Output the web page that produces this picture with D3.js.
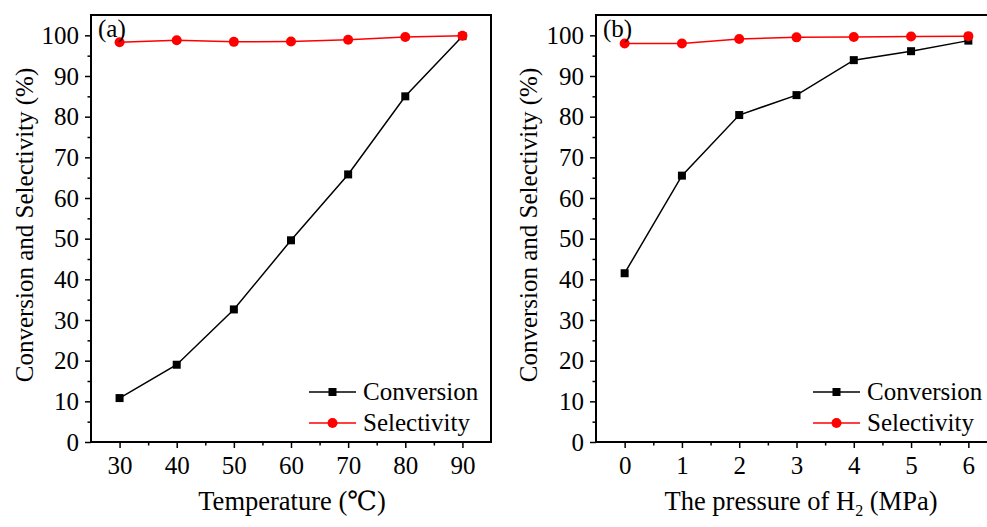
<!DOCTYPE html>
<html>
<head>
<meta charset="utf-8">
<script src="https://cdn.jsdelivr.net/npm/d3@7"></script>
<style>
body { margin: 0; background: #fff; }
svg text { font-family: "Times New Roman", "Liberation Serif", "DejaVu Serif", serif; }
</style>
</head>
<body>
<svg id="chart" width="987" height="527"></svg>
<script>
// panel (a): temperature
const temps = [30, 40, 50, 60, 70, 80, 90];
const convA = [10.8, 19.0, 32.6, 49.6, 65.8, 85.0, 99.8];
const selA = [98.3, 98.8, 98.4, 98.5, 98.9, 99.6, 99.9];

// panel (b): H2 pressure
const pressures = [0, 1, 2, 3, 4, 5, 6];
const convB = [41.5, 65.5, 80.4, 85.3, 93.9, 96.1, 98.7];
const selB = [98.0, 98.0, 99.1, 99.5, 99.6, 99.7, 99.8];

const yTicks = [0, 10, 20, 30, 40, 50, 60, 70, 80, 90, 100];

const svg = d3.select("#chart");
const fontSize = 25;
const titleSize = 26.5;
const serif = '"Times New Roman", "Liberation Serif", "DejaVu Serif", serif';

function drawPanel(opt) {
    const g = svg.append("g");
    const x = d3.scaleLinear().domain(opt.xDomain).range([opt.left, opt.right]);
    const y = d3.scaleLinear().domain([0, 105]).range([442, 15]);

    // frame
    g.append("rect")
        .attr("x", opt.left).attr("y", 15)
        .attr("width", opt.right - opt.left).attr("height", 442 - 15)
        .attr("fill", "none").attr("stroke", "#000").attr("stroke-width", 2);

    // y axis
    g.append("g").attr("transform", `translate(${opt.left},0)`)
        .call(d3.axisLeft(y).tickValues(yTicks).tickSize(6).tickPadding(6).tickFormat(d3.format("d")));
    g.append("g").attr("transform", `translate(${opt.left},0)`)
        .call(d3.axisLeft(y).tickValues(yTicks.slice(0, -1).map(d => d + 5)).tickSize(3.5).tickFormat(""));

    // x axis
    g.append("g").attr("transform", "translate(0,442)")
        .call(d3.axisBottom(x).tickValues(opt.xTicks).tickSize(6).tickPadding(8).tickFormat(d3.format("d")));
    g.append("g").attr("transform", "translate(0,442)")
        .call(d3.axisBottom(x).tickValues(opt.xMinor).tickSize(3.5).tickFormat(""));

    g.selectAll(".domain").remove();
    g.selectAll("g").attr("font-family", serif);
    g.selectAll(".tick line").attr("stroke", "#000").attr("stroke-width", 1.5);
    g.selectAll(".tick text").attr("font-size", fontSize).attr("fill", "#000")
        .attr("font-family", serif);

    // lines
    const line = (vals) => d3.line().x((d, i) => x(opt.xs[i])).y(d => y(d))(vals);
    g.append("path").attr("d", line(opt.conv)).attr("fill", "none")
        .attr("stroke", "#000").attr("stroke-width", 1.5);
    g.append("path").attr("d", line(opt.sel)).attr("fill", "none")
        .attr("stroke", "#ff0000").attr("stroke-width", 1.5);

    g.selectAll(".sq").data(opt.conv).join("rect")
        .attr("x", (d, i) => x(opt.xs[i]) - 4).attr("y", d => y(d) - 4)
        .attr("width", 8).attr("height", 8).attr("fill", "#000");
    g.selectAll(".ci").data(opt.sel).join("circle")
        .attr("cx", (d, i) => x(opt.xs[i])).attr("cy", d => y(d))
        .attr("r", 5).attr("fill", "#ff0000");

    // panel label
    g.append("text").attr("x", opt.left + 7).attr("y", 37)
        .attr("font-size", fontSize).attr("font-family", serif).text(opt.label);

    // legend
    const lx = opt.legendX;
    [["Conversion", "#000", "sq", 392], ["Selectivity", "#ff0000", "ci", 423]].forEach(([name, col, mk, ly]) => {
        g.append("line").attr("x1", lx).attr("x2", lx + 47).attr("y1", ly).attr("y2", ly)
            .attr("stroke", col).attr("stroke-width", 1.5);
        if (mk === "sq") {
            g.append("rect").attr("x", lx + 23.5 - 4).attr("y", ly - 4).attr("width", 8).attr("height", 8).attr("fill", col);
        } else {
            g.append("circle").attr("cx", lx + 23.5).attr("cy", ly).attr("r", 5).attr("fill", col);
        }
        g.append("text").attr("x", lx + 54).attr("y", ly + 8)
            .attr("font-size", fontSize).attr("font-family", serif).text(name);
    });

    // axis titles
    g.append("text")
        .attr("transform", `translate(${opt.yTitleX},${225}) rotate(-90)`)
        .attr("text-anchor", "middle").attr("font-size", fontSize).attr("font-family", serif)
        .text("Conversion and Selectivity (%)");
    const xt = g.append("text").attr("x", opt.xTitleX).attr("y", 510)
        .attr("text-anchor", "middle").attr("font-size", titleSize).attr("font-family", serif);
    opt.xTitle(xt);
}

drawPanel({
    left: 91, right: 491, xDomain: [25, 95],
    xTicks: temps, xMinor: [35, 45, 55, 65, 75, 85],
    xs: temps, conv: convA, sel: selA, label: "(a)",
    legendX: 309, yTitleX: 33, xTitleX: 292,
    xTitle: t => t.text("Temperature (\u2103)")
});

drawPanel({
    left: 596, right: 997, xDomain: [-0.5, 6.5],
    xTicks: pressures, xMinor: [0.5, 1.5, 2.5, 3.5, 4.5, 5.5],
    xs: pressures, conv: convB, sel: selB, label: "(b)",
    legendX: 813, yTitleX: 537, xTitleX: 801,
    xTitle: t => {
        t.append("tspan").text("The pressure of H");
        t.append("tspan").attr("font-size", 16).attr("dy", 6).text("2");
        t.append("tspan").attr("dy", -6).text(" (MPa)");
    }
});
</script>
</body>
</html>
